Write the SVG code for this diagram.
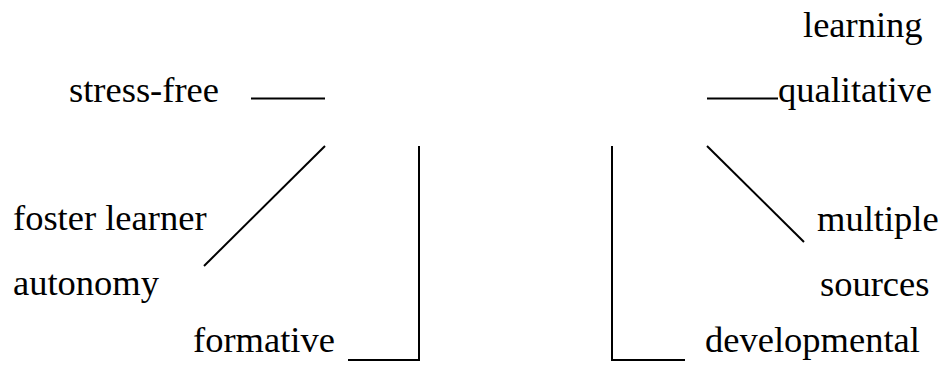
<svg xmlns="http://www.w3.org/2000/svg" width="944" height="372" viewBox="0 0 944 372">
<style>
.t{font-family:"Liberation Serif","Times New Roman",serif;font-size:36.5px;fill:#000}
.c{stroke:#000;stroke-width:2;fill:none}
</style>
<rect width="944" height="372" fill="#fff"/>
<g class="t">
<g id="n-learning"><text x="803" y="37">learning</text></g>
<g id="n-stress-free"><text x="69" y="102">stress-free</text></g>
<g id="n-qualitative"><text x="778" y="102">qualitative</text></g>
<g id="n-foster"><text x="13" y="230">foster learner</text><text x="13" y="295">autonomy</text></g>
<g id="n-multiple"><text x="817" y="231">multiple</text><text x="820" y="296">sources</text></g>
<g id="n-formative"><text x="193" y="352">formative</text></g>
<g id="n-developmental"><text x="705" y="352">developmental</text></g>
</g>
<g id="connectors" class="c">
<line x1="251" y1="98.5" x2="325" y2="98.5"/>
<line x1="707" y1="98.5" x2="778" y2="98.5"/>
<line x1="325" y1="146" x2="204" y2="266"/>
<polyline points="419,146 419,360 348,360"/>
<polyline points="612,146 612,360 685,360"/>
<line x1="707" y1="146" x2="804" y2="242"/>
</g>
</svg>
